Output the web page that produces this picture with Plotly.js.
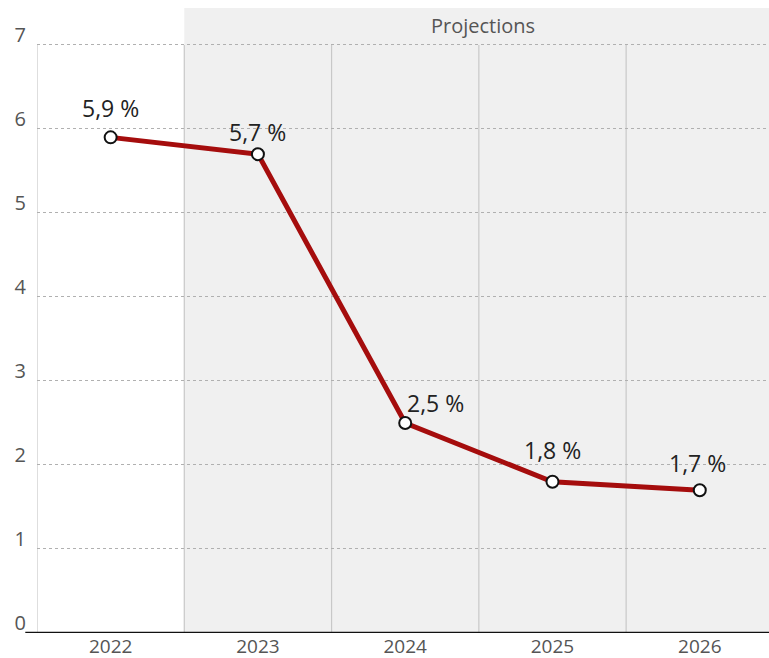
<!DOCTYPE html>
<html><head><meta charset="utf-8">
<script src="https://cdn.plot.ly/plotly-3.0.1.min.js"></script>
<style>html,body{margin:0;padding:0;background:#fff;}#chart{width:769px;height:658px;}</style>
</head><body><div id="chart"></div>
<script>
const years = ['2022','2023','2024','2025','2026'];
const values = [5.9, 5.7, 2.5, 1.8, 1.7];
const yTicks = [0,1,2,3,4,5,6,7];
const labelXShift = [0, 0, 30, 0, -2];
const labelYShift = [29, 22, 20, 32, 27];
const projectionLabel = 'Projections';

const fmt = v => v.toFixed(1).replace('.', ',') + ' %';
const xi = years.map((_, i) => i);

const shapes = [
  {type:'rect', xref:'x', yref:'paper', x0:0.5, x1:5, y0:0, y1:1, fillcolor:'#f0f0f0', line:{width:0}, layer:'below'}
];
[-0.5, 0.5, 1.5, 2.5, 3.5].forEach(x => shapes.push({type:'line', xref:'x', yref:'y', x0:x, x1:x, y0:0, y1:7, line:{color:'#c8c8c8', width:1.2}, layer:'below'}));
shapes.push({type:'line', xref:'paper', yref:'y', x0:-0.016, x1:1, y0:0, y1:0, line:{color:'#111', width:2.5}});

const annotations = values.map((v, i) => ({
  x: i, y: v, xref:'x', yref:'y', text: fmt(v), showarrow:false,
  xshift: labelXShift[i], yshift: labelYShift[i],
  font:{family:'Open Sans, sans-serif', size:23, color:'#222'}
}));
annotations.push({xref:'x', yref:'paper', x:2.53, y:1, yshift:-17, yanchor:'middle', text:projectionLabel, showarrow:false,
  font:{family:'Open Sans, sans-serif', size:20, color:'#555'}});

const trace = {
  x: xi, y: values, type:'scatter', mode:'lines+markers',
  line:{color:'#a50d0d', width:5},
  marker:{size:12, color:'#fff', line:{color:'#111', width:2}},
  hoverinfo:'skip', cliponaxis:false
};

const layout = {
  width:769, height:658,
  margin:{l:37, r:0, t:8, b:25},
  paper_bgcolor:'#fff', plot_bgcolor:'rgba(0,0,0,0)',
  showlegend:false,
  xaxis:{range:[-0.5, 4.47], tickmode:'array', tickvals:xi, ticktext:years, showgrid:false, zeroline:false,
    showline:false, ticks:'', ticklabelstandoff:0, tickfont:{family:'Open Sans, sans-serif', size:19, color:'#555'}, fixedrange:true},
  yaxis:{range:[0, 7.44], tickmode:'array', tickvals:yTicks, showgrid:true, gridcolor:'#b0b0b0', griddash:'dot', gridwidth:1,
    zeroline:false, showline:false, ticks:'', ticklabelshift:-10, ticklabelstandoff:10,
    tickfont:{family:'Open Sans, sans-serif', size:20, color:'#555'}, fixedrange:true},
  shapes: shapes,
  annotations: annotations
};
Plotly.newPlot('chart', [trace], layout, {displayModeBar:false, staticPlot:true});
</script></body></html>
